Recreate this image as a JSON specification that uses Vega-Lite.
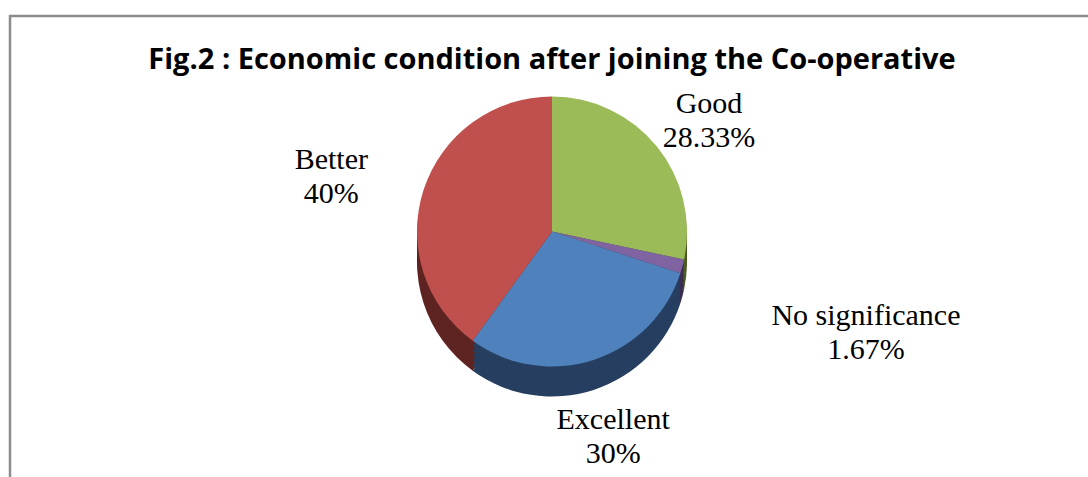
{
  "$schema": "https://vega.github.io/schema/vega-lite/v6.json",
  "width": 1088,
  "height": 477,
  "autosize": {"type": "fit", "contains": "padding"},
  "padding": {"left": 8, "top": 14, "right": -8, "bottom": -8},
  "background": "white",
  "config": {"view": {"stroke": null}},
  "title": {
    "text": "Fig.2 : Economic condition after joining the Co-operative",
    "font": "Open Sans",
    "fontSize": 29,
    "fontWeight": "bold",
    "color": "#000000",
    "anchor": "middle",
    "frame": "group",
    "offset": -60
  },
  "datasets": {
    "pie": [
      {"category": "Good", "value": 28.33, "pct": "28.33%", "seq": 1},
      {"category": "No significance", "value": 1.67, "pct": "1.67%", "seq": 2},
      {"category": "Excellent", "value": 30, "pct": "30%", "seq": 3},
      {"category": "Better", "value": 40, "pct": "40%", "seq": 4}
    ],
    "frame": [{"name": "frame"}]
  },
  "data": {"name": "pie"},
  "transform": [{"calculate": "datum.category + '\\n' + datum.pct", "as": "label"}],
  "layer": [
    {
      "data": {"name": "frame"},
      "mark": {"type": "rect", "fill": null, "fillOpacity": 0, "stroke": "#8C8C8C", "strokeWidth": 2.5},
      "encoding": {}
    },
    {
      "mark": {"type": "arc", "outerRadius": 135, "yOffset": 12},
      "encoding": {
        "theta": {"field": "value", "type": "quantitative", "stack": true},
        "order": {"field": "seq", "type": "quantitative"},
        "fill": {"field": "category", "type": "nominal", "legend": null,
        "scale": {"domain": ["Good", "No significance", "Excellent", "Better"], "range": ["#4A5C22", "#3D2E50", "#263F61", "#5E2422"]}}}
    },
    {
      "mark": {"type": "arc", "outerRadius": 135, "yOffset": 7},
      "encoding": {
        "theta": {"field": "value", "type": "quantitative", "stack": true},
        "order": {"field": "seq", "type": "quantitative"},
        "fill": {"field": "category", "type": "nominal", "legend": null}}
    },
    {
      "mark": {"type": "arc", "outerRadius": 135, "yOffset": 2},
      "encoding": {
        "theta": {"field": "value", "type": "quantitative", "stack": true},
        "order": {"field": "seq", "type": "quantitative"},
        "fill": {"field": "category", "type": "nominal", "legend": null}}
    },
    {
      "mark": {"type": "arc", "outerRadius": 135, "yOffset": -3},
      "encoding": {
        "theta": {"field": "value", "type": "quantitative", "stack": true},
        "order": {"field": "seq", "type": "quantitative"},
        "fill": {"field": "category", "type": "nominal", "legend": null}}
    },
    {
      "mark": {"type": "arc", "outerRadius": 135, "yOffset": -8},
      "encoding": {
        "theta": {"field": "value", "type": "quantitative", "stack": true},
        "order": {"field": "seq", "type": "quantitative"},
        "fill": {"field": "category", "type": "nominal", "legend": null}}
    },
    {
      "mark": {"type": "arc", "outerRadius": 135, "yOffset": -13},
      "encoding": {
        "theta": {"field": "value", "type": "quantitative", "stack": true},
        "order": {"field": "seq", "type": "quantitative"},
        "fill": {"field": "category", "type": "nominal", "legend": null}}
    },
    {
      "mark": {"type": "arc", "outerRadius": 135, "yOffset": -18},
      "encoding": {
        "theta": {"field": "value", "type": "quantitative", "stack": true},
        "order": {"field": "seq", "type": "quantitative"},
        "color": {"field": "category", "type": "nominal", "legend": null,
        "scale": {"domain": ["Good", "No significance", "Excellent", "Better"], "range": ["#9BBB59", "#8064A2", "#4F81BD", "#C0504D"]}}}
    },
    {
      "mark": {"type": "text", "font": "Liberation Serif", "fontSize": 30, "color": "#000000",
        "lineBreak": "\n", "lineHeight": 34, "yOffset": -18,
        "radius": {"expr": "datum.category == 'No significance' ? 325 : datum.category == 'Excellent' ? 198 : datum.category == 'Better' ? 232 : 202"}},
      "encoding": {
        "theta": {"field": "value", "type": "quantitative", "stack": true},
        "order": {"field": "seq", "type": "quantitative"},
        "text": {"field": "label", "type": "nominal"}}
    }
  ]
}
